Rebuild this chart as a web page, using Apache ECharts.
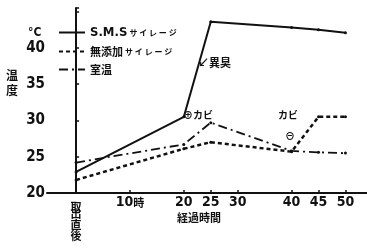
<!DOCTYPE html>
<html>
<head>
<meta charset="utf-8">
<script src="https://cdn.jsdelivr.net/npm/echarts@6/dist/echarts.min.js"></script>
<style>
html,body{margin:0;padding:0;background:#fff;}
#main{width:367px;height:251px;}
</style>
</head>
<body>
<div id="main"></div>
<script>
// 経過時間 (h)
var hours = [0, 20, 25, 40, 45, 50];
var smsTemp = [22.9, 30.5, 43.6, 42.8, 42.5, 42.1];
var mutenkaTemp = [21.8, 26.1, 27.0, 25.7, 30.5, 30.5];
var roomTemp = [24.2, 26.7, 29.7, 25.8, 25.6, 25.5];
var xTicks = [0, 10, 20, 25, 30, 40, 45, 50];
var names = ['S.M.Sサイレージ', '無添加サイレージ', '室温'];

var myChart = echarts.init(document.getElementById('main'));
var ink = '#111';
var numFont = '"Liberation Sans Narrow","DejaVu Sans Condensed",sans-serif';
var jpFont = '"Noto Sans CJK JP",sans-serif';

function pairs(ys){
    var out = [];
    for (var i = 0; i < hours.length; i++) {
        out.push([hours[i], ys[i]]);
    }
    return out;
}

var option = {
    animation: false,
    grid: {left: 47, right: 0, top: 8, bottom: 58},
    legend: {
        orient: 'vertical',
        left: 53,
        top: 21,
        itemWidth: 26,
        itemHeight: 8,
        itemGap: 7,
        data: names,
        itemStyle: {opacity: 0},
        textStyle: {
            color: ink,
            fontFamily: jpFont,
            fontSize: 11,
            fontWeight: 'bold',
            rich: {
                a: {fontFamily: numFont, fontSize: 13, fontWeight: 'bold', color: ink},
                b: {fontFamily: jpFont, fontSize: 8, color: ink, padding: [0, 0, 0, 2]}
            }
        },
        formatter: function(n){
            if (n == names[0]) return '{a|S.M.S}{b|サ イ レ ー ジ}';
            if (n == names[1]) return '無添加{b|サ イ レ ー ジ}';
            return n;
        }
    },
    xAxis: {
        type: 'value',
        min: -5.4,
        max: 54,
        splitLine: {show: false},
        axisLine: {lineStyle: {color: ink, width: 2}},
        axisTick: {
            customValues: xTicks,
            length: 3,
            inside: true,
            lineStyle: {color: ink, width: 1.5}
        },
        axisLabel: {
            customValues: xTicks,
            color: ink,
            fontFamily: numFont,
            fontWeight: 'bold',
            fontSize: 14,
            margin: 4,
            lineHeight: 11,
            formatter: function(v){
                if (v == 0) return '{t|取}\n{j|出}\n{j|直}\n{j|後}';
                if (v == 10) return '10{k|時}';
                return v;
            },
            rich: {
                t: {fontFamily: jpFont, fontSize: 11, fontWeight: 'bold', lineHeight: 11, color: ink, padding: [8, 0, 0, 0]},
                j: {fontFamily: jpFont, fontSize: 11, fontWeight: 'bold', lineHeight: 11, color: ink},
                k: {fontFamily: jpFont, fontSize: 11, fontWeight: 'bold', color: ink}
            }
        }
    },
    yAxis: {
        type: 'value',
        min: 20,
        max: 45.5,
        interval: 5,
        splitLine: {show: false},
        axisLine: {lineStyle: {color: ink, width: 2}},
        axisTick: {inside: true, length: 3, lineStyle: {color: ink, width: 1.5}},
        axisLabel: {
            color: ink,
            fontFamily: numFont,
            fontWeight: 'bold',
            fontSize: 15,
            margin: 2,
            formatter: function(v){ return v > 40 ? '' : v; }
        }
    },
    series: [
        {
            name: names[0], type: 'line', data: pairs(smsTemp),
            symbol: 'circle', symbolSize: 3,
            itemStyle: {color: ink},
            lineStyle: {color: ink, width: 2}
        },
        {
            name: names[1], type: 'line', data: pairs(mutenkaTemp),
            symbol: 'circle', symbolSize: 3,
            itemStyle: {color: ink},
            lineStyle: {color: ink, width: 2.5, type: [4, 3]}
        },
        {
            name: names[2], type: 'line', data: pairs(roomTemp),
            symbol: 'circle', symbolSize: 3,
            itemStyle: {color: ink},
            lineStyle: {color: ink, width: 1.8, type: [9, 4, 2, 4]}
        }
    ],
    graphic: [
        {type: 'text', left: 28, top: 27, style: {text: '°C', font: 'bold 12px ' + numFont, fill: ink}},
        {type: 'text', left: 6, top: 68, style: {text: '温\n度', font: 'bold 12px ' + jpFont, lineHeight: 15, fill: ink}},
        {type: 'text', left: 177, top: 212, style: {text: '経過時間', font: 'bold 11px ' + jpFont, fill: ink}},
        {type: 'text', left: 198, top: 57, style: {text: '↙異臭', font: 'bold 11px ' + jpFont, fill: ink}},
        {type: 'text', left: 183, top: 110, style: {text: '⊕カビ', font: 'bold 10px ' + jpFont, fill: ink}},
        {type: 'text', left: 278, top: 110, style: {text: 'カビ', font: 'bold 10px ' + jpFont, fill: ink}},
        {type: 'text', left: 285, top: 131, style: {text: '⊖', font: 'bold 10px ' + jpFont, fill: ink}}
    ]
};

myChart.setOption(option);
</script>
</body>
</html>
